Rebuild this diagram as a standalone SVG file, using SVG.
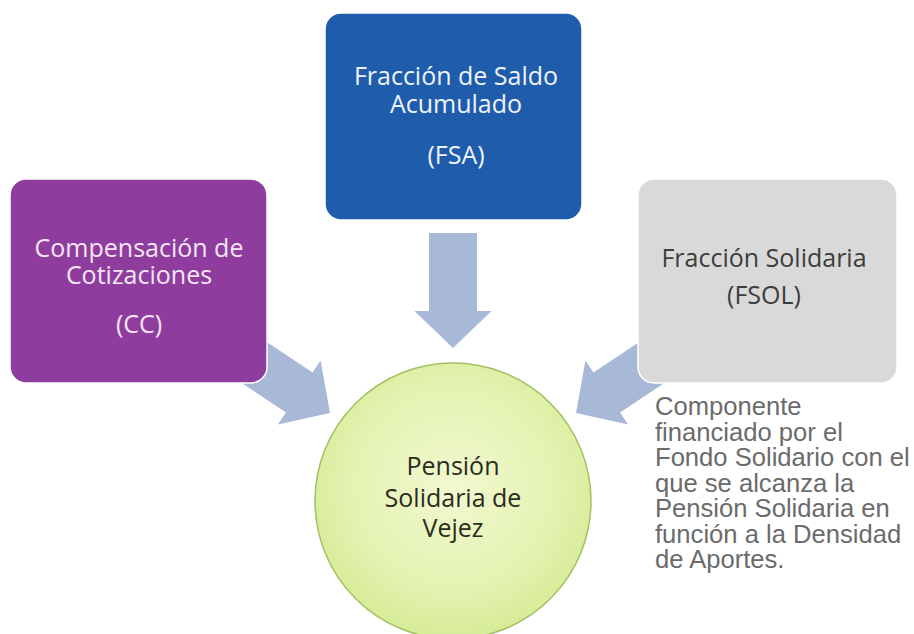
<svg xmlns="http://www.w3.org/2000/svg" width="914" height="634" viewBox="0 0 914 634">
  <defs>
    <radialGradient id="gCircle" cx="50%" cy="45%" r="55%">
      <stop offset="0" stop-color="#f1f9d0"/>
      <stop offset="0.7" stop-color="#e3f2b0"/>
      <stop offset="1" stop-color="#d6ec96"/>
    </radialGradient>
    <path id="arrowShape" d="M0,0 L-37,-38.5 L-37,-24 L-115,-24 L-115,24 L-37,24 L-37,38.5 Z"/>
  </defs>
  <style>
    .arrow { fill: #a8b8d7; }
    .box { stroke: #ffffff; stroke-width: 1.5; }
    .lbl { font-family: "Open Sans", "Noto Sans", sans-serif; font-size: 25px; text-anchor: middle; }
    .note { font-family: "Liberation Sans", Arial, sans-serif; font-size: 25.6px; fill: #6b6b6b; }
  </style>
  <rect width="914" height="634" fill="#ffffff"/>

  <g id="connectors">
    <use href="#arrowShape" class="arrow" transform="translate(453,348) rotate(90)"/>
    <use href="#arrowShape" class="arrow" transform="translate(330,413) rotate(33.7)"/>
    <use href="#arrowShape" class="arrow" transform="translate(576,413) rotate(146.3)"/>
  </g>

  <g id="node-cc">
    <rect class="box" x="10" y="179" width="257" height="204" rx="16" fill="#8e3d9e"/>
    <text class="lbl" fill="#f5e6f5" x="139" y="257">Compensación de<tspan x="139" y="284">Cotizaciones</tspan><tspan x="139" y="333">(CC)</tspan></text>
  </g>

  <g id="node-fsa">
    <rect class="box" x="325" y="13" width="257" height="207" rx="16" fill="#1f5cab"/>
    <text class="lbl" fill="#eef3fb" x="456" y="85">Fracción de Saldo<tspan x="456" y="113">Acumulado</tspan><tspan x="456" y="164">(FSA)</tspan></text>
  </g>

  <g id="node-fsol">
    <rect class="box" x="638" y="179" width="259" height="204" rx="16" fill="#d9d9d9"/>
    <text class="lbl" fill="#3d3d3d" x="764" y="267">Fracción Solidaria<tspan x="764" y="304">(FSOL)</tspan></text>
  </g>

  <g id="node-psv">
    <circle cx="453" cy="501" r="138" fill="url(#gCircle)" stroke="#a3c163" stroke-width="1.5"/>
    <text class="lbl" fill="#2b2b1e" x="453" y="475">Pensión<tspan x="453" y="507">Solidaria de</tspan><tspan x="453" y="537">Vejez</tspan></text>
  </g>

  <g id="note-fsol">
    <text class="note" x="655" y="415">Componente<tspan x="655" y="440.5">financiado por el</tspan><tspan x="655" y="466">Fondo Solidario con el</tspan><tspan x="655" y="491.5">que se alcanza la</tspan><tspan x="655" y="517">Pensión Solidaria en</tspan><tspan x="655" y="542.5">función a la Densidad</tspan><tspan x="655" y="568">de Aportes.</tspan></text>
  </g>
</svg>
